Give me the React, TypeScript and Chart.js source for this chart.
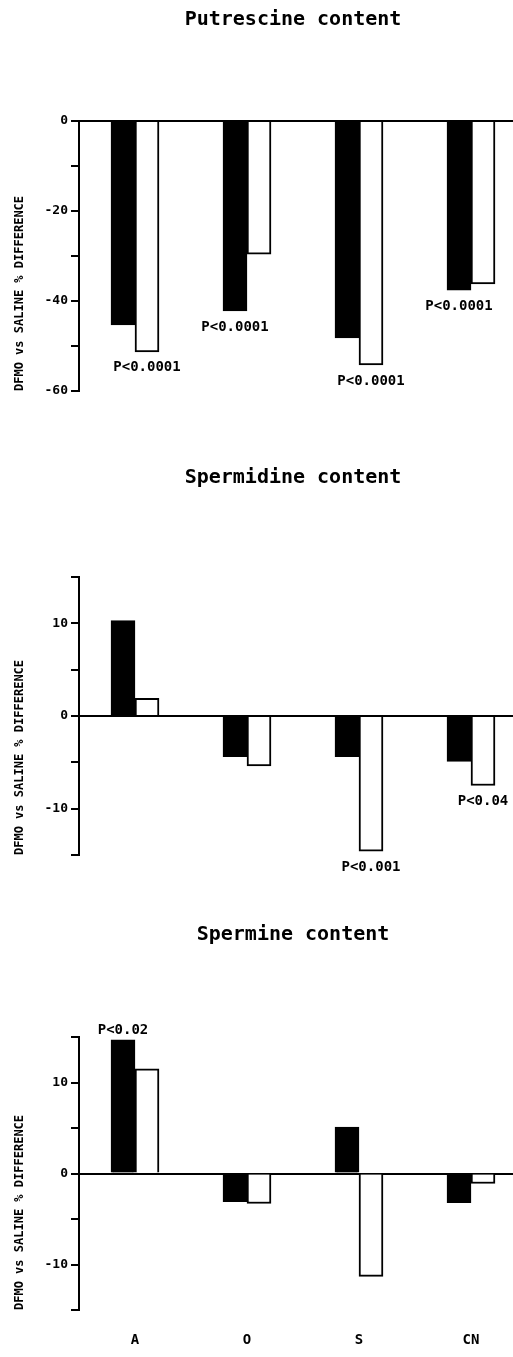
import React, { useEffect, useRef } from 'react';
import { Chart, registerables } from 'chart.js';

Chart.register(...registerables);
Chart.defaults.font.family = "'DejaVu Sans Mono', monospace";

const categories = ['A', 'O', 'S', 'CN'];

const putrescineBlack = [-45.3, -42.2, -48.2, -37.6];
const putrescineWhite = [-51.3, -29.6, -54.2, -36.2];
const spermidineBlack = [10.3, -4.4, -4.4, -4.9];
const spermidineWhite = [1.9, -5.4, -14.6, -7.5];
const spermineBlack = [14.7, -3.1, 5.1, -3.2];
const spermineWhite = [11.5, -3.3, -11.3, -1.1];

const putrescineNotes = ['P<0.0001', 'P<0.0001', 'P<0.0001', 'P<0.0001'];
const putrescineNoteSeries = [1, 0, 1, 0];
const spermidineNotes = ['', '', 'P<0.001', 'P<0.04'];
const spermidineNoteSeries = [1, 1, 1, 1];
const spermineNotes = ['P<0.02', '', '', ''];
const spermineNoteSeries = [0, 0, 0, 0];

const putrescineTickLabels = [-60, -40, -20, 0];
const polyamineTickLabels = [-10, 0, 10];

const yTitle = 'DFMO vs SALINE % DIFFERENCE';

const notePlugin = {
  id: 'notes',
  afterDatasetsDraw(chart: any, _args: any, opts: any) {
    const texts: string[] = opts.texts || [];
    const series: number[] = opts.series || [];
    const ctx = chart.ctx;
    ctx.save();
    ctx.font = "bold 14px 'DejaVu Sans Mono', monospace";
    ctx.fillStyle = '#000';
    ctx.textAlign = 'center';
    ctx.textBaseline = 'middle';
    texts.forEach((t, i) => {
      if (!t) return;
      const ds = series[i];
      const el = chart.getDatasetMeta(ds).data[i];
      const v = chart.data.datasets[ds].data[i];
      const y = v < 0 ? el.y + 16 : el.y - 9;
      ctx.fillText(t, el.x, y);
    });
    ctx.restore();
  },
};

const CANVAS_W = 586;
const AXIS_X = 79;
const RIGHT_SPACER = 59;

const panels = [
  {
    title: 'Putrescine content',
    black: putrescineBlack,
    white: putrescineWhite,
    notes: putrescineNotes,
    noteSeries: putrescineNoteSeries,
    min: -60,
    max: 0,
    step: 10,
    labeled: putrescineTickLabels,
    showX: false,
    top: 0,
    height: 440,
    titlePadBottom: 89,
    padBottom: 49,
  },
  {
    title: 'Spermidine content',
    black: spermidineBlack,
    white: spermidineWhite,
    notes: spermidineNotes,
    noteSeries: spermidineNoteSeries,
    min: -15,
    max: 15,
    step: 5,
    labeled: polyamineTickLabels,
    showX: false,
    top: 458,
    height: 440,
    titlePadBottom: 87,
    padBottom: 43,
  },
  {
    title: 'Spermine content',
    black: spermineBlack,
    white: spermineWhite,
    notes: spermineNotes,
    noteSeries: spermineNoteSeries,
    min: -15,
    max: 15,
    step: 5,
    labeled: polyamineTickLabels,
    showX: true,
    top: 915,
    height: 442,
    titlePadBottom: 90,
    padBottom: 0,
  },
];

function Panel({ cfg }: { cfg: any }) {
  const ref = useRef<HTMLCanvasElement | null>(null);
  useEffect(() => {
    if (!ref.current) return;
    const xScale: any = {
      type: 'category',
      offset: true,
      display: cfg.showX,
      grid: { display: false, drawTicks: false },
      border: { display: false },
      ticks: { color: '#000', font: { size: 14, weight: 'bold' }, padding: 22 },
    };
    if (cfg.showX) {
      xScale.afterFit = (s: any) => {
        s.height = 47;
      };
    }
    const chart = new Chart(ref.current, {
      type: 'bar',
      data: {
        labels: categories,
        datasets: [
          {
            label: 'DFMO black',
            data: cfg.black,
            backgroundColor: '#000',
            borderColor: '#000',
            borderWidth: 2,
            barThickness: 24,
          },
          {
            label: 'DFMO white',
            data: cfg.white,
            backgroundColor: '#fff',
            borderColor: '#000',
            borderWidth: 2,
            barThickness: 24,
          },
        ],
      },
      options: {
        animation: false,
        responsive: false,
        devicePixelRatio: 1,
        layout: { padding: { left: 0, right: 0, top: 0, bottom: cfg.padBottom } },
        plugins: {
          legend: { display: false },
          tooltip: { enabled: false },
          title: {
            display: true,
            text: cfg.title,
            fullSize: true,
            color: '#000',
            font: { size: 20, weight: 'bold' },
            padding: { top: 8, bottom: cfg.titlePadBottom },
          },
          notes: { texts: cfg.notes, series: cfg.noteSeries },
        } as any,
        scales: {
          x: xScale,
          y: {
            min: cfg.min,
            max: cfg.max,
            border: { display: true, color: '#000', width: 2 },
            grid: {
              color: (c: any) => (c.tick && c.tick.value === 0 ? '#000' : 'rgba(0,0,0,0)'),
              lineWidth: 2,
              tickColor: '#000',
              tickLength: 8,
              tickWidth: 2,
            },
            ticks: {
              stepSize: cfg.step,
              autoSkip: false,
              color: '#000',
              padding: 3,
              font: { size: 13, weight: 'bold' },
              callback: (v: any) => (cfg.labeled.includes(Number(v)) ? String(v) : ''),
            },
            title: {
              display: true,
              text: yTitle,
              align: 'start',
              color: '#000',
              font: { size: 12, weight: 'bold' },
              padding: { top: 13, bottom: 0 },
            },
            afterFit: (s: any) => {
              s.width = AXIS_X;
            },
          },
          spacer: {
            type: 'linear',
            position: 'right',
            display: true,
            grid: { display: false, drawTicks: false },
            border: { display: false },
            ticks: { display: false },
            afterFit: (s: any) => {
              s.width = RIGHT_SPACER;
            },
          },
        },
      },
      plugins: [notePlugin],
    } as any);
    return () => chart.destroy();
  }, [cfg]);
  return (
    <canvas
      ref={ref}
      width={CANVAS_W}
      height={cfg.height}
      style={{ position: 'absolute', left: 0, top: cfg.top, width: CANVAS_W, height: cfg.height }}
    />
  );
}

export default function App() {
  return (
    <div
      style={{
        position: 'absolute',
        left: 0,
        top: 0,
        width: 513,
        height: 1357,
        overflow: 'hidden',
        background: '#fff',
      }}
    >
      {panels.map((p) => (
        <Panel key={p.title} cfg={p} />
      ))}
    </div>
  );
}
